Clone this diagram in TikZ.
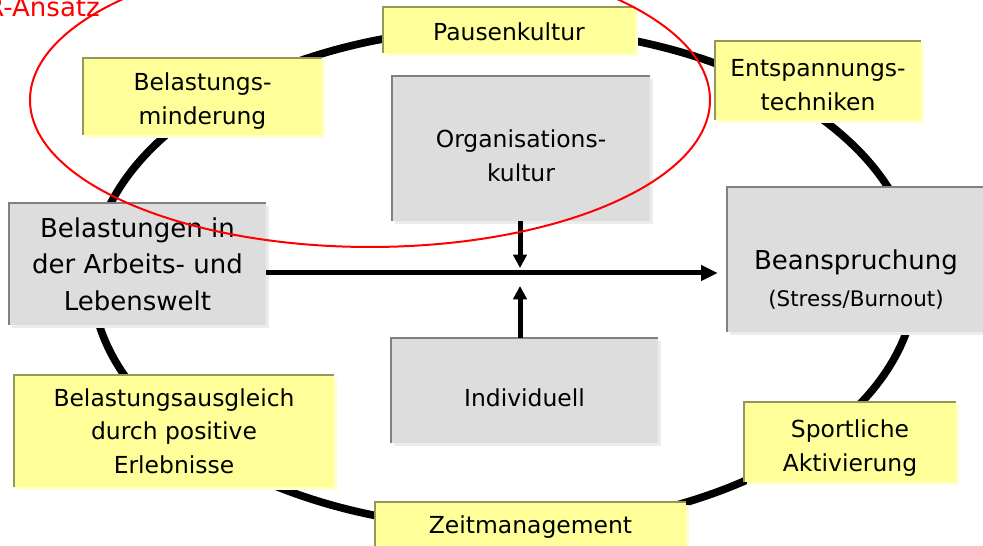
\documentclass[tikz,border=0pt]{standalone}
\usepackage{fontspec}
\setmainfont{DejaVu Sans}
\usetikzlibrary{arrows.meta, shadows}

\definecolor{notefill}{RGB}{255,255,153}
\definecolor{noteedge}{RGB}{150,150,90}
\definecolor{noteshadow}{RGB}{255,255,205}
\definecolor{corefill}{RGB}{221,221,221}
\definecolor{coreedge}{RGB}{128,128,128}
\definecolor{coreshadow}{RGB}{236,236,236}

\newcommand{\notefont}{\fontsize{20}{28.5}\selectfont}
\newcommand{\corefont}{\fontsize{22.2}{31}\selectfont}
\newcommand{\subfont}{\fontsize{18.3}{26}\selectfont}

\begin{document}
\begin{tikzpicture}[
  every node/.style={font=\notefont},
  box/.style={draw=none, align=center, inner sep=0pt},
  note/.style={box, fill=notefill, drop shadow={shadow xshift=0.08cm, shadow yshift=-0.08cm, fill=noteshadow, opacity=1}},
  core/.style={box, fill=corefill, drop shadow={shadow xshift=0.08cm, shadow yshift=-0.08cm, fill=coreshadow, opacity=1}},
  noteline/.style={draw=noteedge, line width=0.045cm},
  coreline/.style={draw=coreedge, line width=0.045cm},
  ring/.style={draw=black, line width=0.23cm},
  group/.style={draw=red, line width=0.06cm},
  arrow/.style={-{Triangle[length=0.5cm, width=0.45cm]}, line width=0.15cm, draw=black},
  inflow/.style={arrow, -{Triangle[length=0.4cm, width=0.4cm]}}
]
\useasboundingbox (0,0) rectangle (29.49,16.38);

% Outer cycle
\draw[ring] (15.12,8.04) ellipse [x radius=12.36, y radius=7.5];

% Measures around the cycle
\node[note, minimum width=7.56cm, minimum height=1.38cm] (pause) at (15.27,15.48) {\rule{0pt}{0.66cm}Pausenkultur};
\node[note, minimum width=7.17cm, minimum height=2.31cm] (minder) at (6.075,13.485) {\rule{0pt}{0.8cm}Belastungs-\\minderung};
\node[note, minimum width=6.18cm, minimum height=2.37cm] (entsp) at (24.54,13.965) {\rule{0pt}{0.8cm}Entspannungs-\\techniken};
\node[note, minimum width=9.6cm, minimum height=3.36cm] (ausgl) at (5.22,3.45) {Belastungsausgleich\\durch positive\\Erlebnisse};
\node[note, minimum width=6.36cm, minimum height=2.4cm] (sport) at (25.5,3.12) {\rule{0pt}{0.9cm}Sportliche\\Aktivierung};
\node[note, minimum width=9.33cm, minimum height=1.38cm] (zeit) at (15.915,0.63) {\rule{0pt}{0.66cm}Zeitmanagement};

% Core chain
\node[core, minimum width=7.71cm, minimum height=3.66cm, font=\corefont] (belast) at (4.125,8.46)
  {Belastungen in\\der Arbeits- und\\Lebenswelt};
\node[core, minimum width=7.74cm, minimum height=4.35cm, font=\corefont] (beansp) at (25.68,8.595)
  {\rule{0pt}{1.8cm}Beanspruchung\\{\subfont (Stress/Burnout)}};
\node[core, minimum width=7.74cm, minimum height=4.35cm] (orga) at (15.63,11.925) {\rule{0pt}{0.97cm}Organisations-\\kultur};
\node[core, minimum width=8.01cm, minimum height=3.15cm] (indiv) at (15.735,4.665) {\rule{0pt}{0.96cm}Individuell};

% Top and left edges
\foreach \n in {pause, minder, entsp, ausgl, sport, zeit}
  \draw[noteline] (\n.south west) -- (\n.north west) -- (\n.north east);
\foreach \n in {belast, beansp, orga, indiv}
  \draw[coreline] (\n.south west) -- (\n.north west) -- (\n.north east);

% Arrows
\coordinate (mid) at (15.6,8.19);
\draw[arrow] (belast.east |- mid) -- ([xshift=-0.27cm]beansp.west |- mid);
\draw[inflow] (orga.south -| mid) -- ([yshift=0.15cm]mid);
\draw[inflow] (indiv.north -| mid) -- ([yshift=-0.39cm]mid);

% Red grouping
\draw[group] (11.1,13.38) ellipse [x radius=10.2, y radius=4.41];
\node[anchor=base east, text=red, font=\corefont, inner sep=0pt] (ansatz) at (3.0,15.87) {R-Ansatz};

\end{tikzpicture}
\end{document}
